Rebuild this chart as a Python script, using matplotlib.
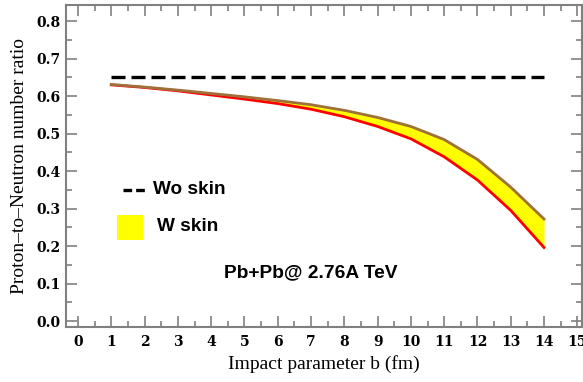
import matplotlib
matplotlib.use("Agg")
import matplotlib.pyplot as plt
from matplotlib.ticker import MultipleLocator
from matplotlib.patches import Rectangle

b = [1, 2, 3, 4, 5, 6, 7, 8, 9, 10, 11, 12, 13, 14]
upper = [0.631, 0.624, 0.616, 0.607, 0.598, 0.588, 0.577, 0.562, 0.543, 0.519, 0.484, 0.431, 0.357, 0.272]
lower = [0.630, 0.623, 0.614, 0.603, 0.592, 0.580, 0.565, 0.545, 0.519, 0.486, 0.438, 0.376, 0.295, 0.196]
wo_skin_x = [1, 14]
wo_skin_y = [0.65, 0.65]
x_ticks = list(range(0, 16))
y_ticks = [0.0, 0.1, 0.2, 0.3, 0.4, 0.5, 0.6, 0.7, 0.8]

fig = plt.figure(figsize=(5.83, 3.82), dpi=100)
ax = fig.add_axes([66/583, 1-327/382, (582-66)/583, (327-5)/382])

ax.fill_between(b, lower, upper, color="#ffff00", linewidth=0)
ax.plot(b, lower, color="#ff0000", lw=2.0)
ax.plot(b, upper, color="#a0703a", lw=2.0)
ax.plot(wo_skin_x, wo_skin_y, color="black", lw=2.4, dashes=(4.2, 1.8))

ax.set_xlim(-0.36, 15.14)
ax.set_ylim(-0.016, 0.843)
ax.set_xticks(x_ticks)
ax.set_yticks(y_ticks)
ax.set_xticklabels([str(t) for t in x_ticks])
ax.set_yticklabels([f"{t:.1f}" for t in y_ticks])
ax.xaxis.set_minor_locator(MultipleLocator(0.5))
ax.yaxis.set_minor_locator(MultipleLocator(0.05))

gray = "#808080"
for s in ax.spines.values():
    s.set_color(gray)
    s.set_linewidth(1.5)
ax.tick_params(which="both", direction="in", top=True, right=True, color=gray, width=1.2)
ax.tick_params(which="major", length=8)
ax.tick_params(which="minor", length=4)
ax.tick_params(axis="x", pad=6)
ax.tick_params(axis="y", pad=4)
for lab in ax.get_xticklabels() + ax.get_yticklabels():
    lab.set_fontfamily("DejaVu Serif")
    lab.set_fontweight("bold")
    lab.set_fontsize(10)

ax.set_xlabel("Impact parameter b (fm)", fontfamily="Liberation Serif", fontsize=14, labelpad=4)
ax.set_ylabel("Proton\u2013to\u2013Neutron number ratio", fontfamily="Liberation Serif", fontsize=14, labelpad=6)

# legend-like annotations
ax.plot([1.35, 2.1], [0.35, 0.35], color="black", lw=2.4, dashes=(2.6, 1.2))
ax.text(2.25, 0.35, "Wo skin", fontfamily="Liberation Sans", fontweight="bold", fontsize=13.7, va="center", ha="left")
ax.add_patch(Rectangle((1.17, 0.216), 0.78, 0.067, color="#ffff00", lw=0))
ax.text(2.37, 0.252, "W skin", fontfamily="Liberation Sans", fontweight="bold", fontsize=13.7, va="center", ha="left")
ax.text(6.98, 0.128, "Pb+Pb@ 2.76A TeV", fontfamily="Liberation Sans", fontweight="bold", fontsize=13.8, va="center", ha="center")

fig.savefig("out.png", dpi=100)
